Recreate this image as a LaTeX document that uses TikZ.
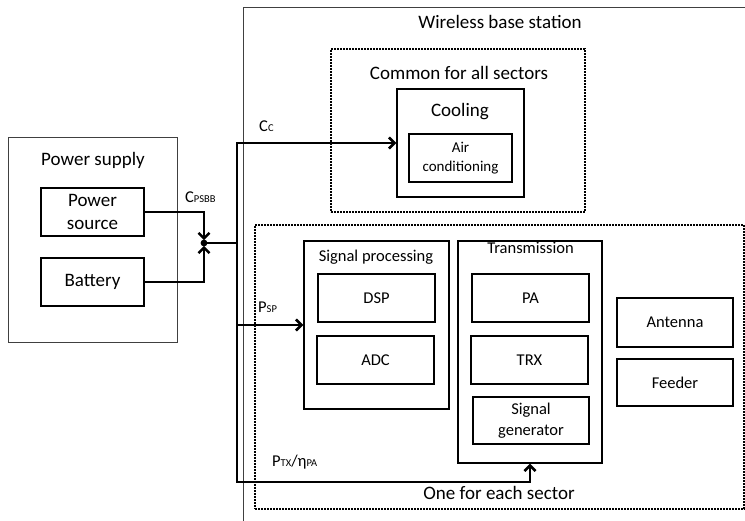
\documentclass[tikz,border=0pt]{standalone}
\usepackage{fontspec}
\setmainfont{Carlito}
\usetikzlibrary{arrows.meta,calc}
\newcommand{\sbs}[1]{{\fontsize{10.5}{12}\selectfont #1}}
\tikzset{
  box/.style={draw, line width=1.4pt, inner sep=0pt, align=center, font=\fontsize{16.5}{21}\selectfont},
  outerbox/.style={draw=black!75, line width=0.8pt, inner sep=0pt},
  dotbox/.style={draw, line width=1.8pt, dash pattern=on 1.8pt off 1.2pt, inner sep=0pt},
  wire/.style={line width=2.6pt},
  arr/.style={wire, -{Straight Barb[length=5.5pt,width=11pt]}},
  big/.style={font=\fontsize{19}{23}\selectfont, inner sep=0pt, anchor=base},
  mid/.style={font=\fontsize{16.5}{20}\selectfont, inner sep=0pt, anchor=base},
  lbl/.style={inner sep=0pt, anchor=base west, font=\fontsize{16.5}{19}\selectfont},
}
\begin{document}
\begin{tikzpicture}[x=1pt,y=-1pt]
\useasboundingbox (0,0) rectangle (745,521);
% outer frames
\node[outerbox, minimum width=169pt, minimum height=205pt] (ps) at (92.5,239.5) {};
\coordinate (bsbl) at (243,521);
\coordinate (bstl) at (243,7);
\coordinate (bstr) at (745,7);
\draw[draw=black!75, line width=0.8pt] (bsbl) -- (bstl) -- (bstr);
\node[dotbox, minimum width=254pt, minimum height=163pt] (common) at (458,130.5) {};
\node[dotbox, minimum width=489pt, minimum height=284pt] (sector) at (499.5,367) {};
% titles
\node[big] (tps) at (93,166) {Power supply};
\node[big] (tbs) at (500,29) {Wireless base station};
\node[big] (tcommon) at (459,80) {Common for all sectors};
\node[big] (tsector) at (499,500) {One for each sector};
% power supply
\node[box, font=\fontsize{19}{23}\selectfont, minimum width=103pt, minimum height=48pt] (psrc) at (92.5,212) {Power\\source};
\node[box, font=\fontsize{19}{23}\selectfont, minimum width=103pt, minimum height=48pt] (batt) at (92.5,282) {Battery};
% cooling
\node[box, minimum width=127pt, minimum height=108pt] (cooling) at (460.5,143) {};
\node[big] (tcool) at (460,117) {Cooling};
\node[box, font=\fontsize{15}{19}\selectfont, minimum width=103pt, minimum height=48pt] (aircon) at (460.5,158) {Air\\conditioning};
% signal processing
\node[box, minimum width=145pt, minimum height=168pt] (sigproc) at (376.5,325) {};
\node[mid] (tsig) at (376,262) {Signal processing};
\node[box, minimum width=117pt, minimum height=48pt] (dsp) at (376.5,298) {DSP};
\node[box, minimum width=117pt, minimum height=48pt] (adc) at (375.5,360) {ADC};
% transmission
\node[box, minimum width=144pt, minimum height=222pt] (trans) at (530,352) {};
\node[mid] (ttrans) at (530.5,254) {Transmission};
\node[box, minimum width=117pt, minimum height=48pt] (pa) at (530.5,298) {PA};
\node[box, minimum width=117pt, minimum height=48pt] (trx) at (529.5,360) {TRX};
\node[box, minimum width=116pt, minimum height=47pt] (siggen) at (531,420.5) {Signal\\generator};
% antenna, feeder
\node[box, minimum width=116pt, minimum height=49pt] (antenna) at (675,322.5) {Antenna};
\node[box, minimum width=116pt, minimum height=47pt] (feeder) at (675,382.5) {Feeder};
% wires
\coordinate (j) at (204,243);
\coordinate (jr) at (237,243);
\coordinate (bot) at (237,482);
\draw[arr, shorten >=2.8pt] (psrc.east) -| (j);
\draw[arr, shorten >=2.8pt] (batt.east) -| (j);
\fill (j) circle (3.4pt);
\draw[wire] (j) -- (jr);
\draw[arr] (jr) |- (cooling.west);
\draw[arr] (jr) -- (bot) -| (trans.south);
\draw[arr] (sigproc.west -| jr) -- (sigproc.west);
% labels
\node[lbl] (lcc) at (259,132) {C\sbs{C}};
\node[lbl] (lpsbb) at (185,203) {C\sbs{PSBB}};
\node[lbl] (lpsp) at (258,313) {P\sbs{SP}};
\node[lbl] (lptx) at (272,467) {P\sbs{TX}/η\sbs{PA}};
\end{tikzpicture}
\end{document}
